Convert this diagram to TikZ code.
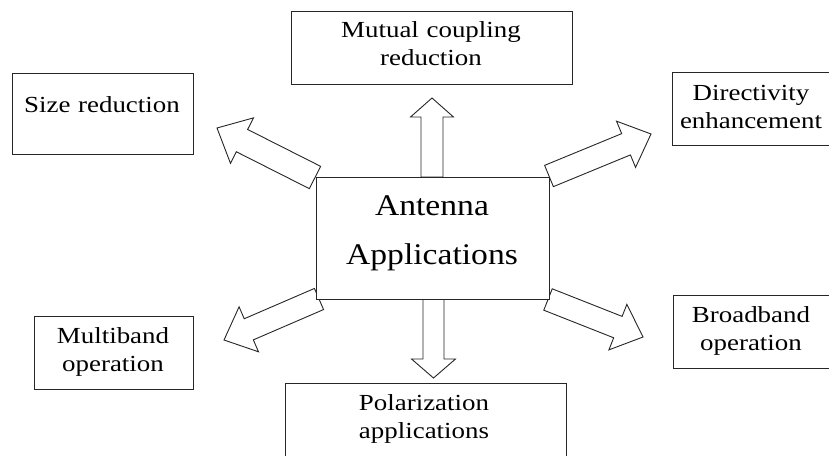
\documentclass[tikz,border=0pt]{standalone}
\usepackage{fontspec}
\setmainfont{Liberation Serif}[FakeStretch=1.17]
\newfontfamily\bigserif{Liberation Serif}[FakeStretch=1.12]
\usetikzlibrary{calc,backgrounds}
\tikzset{
  box/.style={draw=black!85, line width=0.9pt, fill=white, inner sep=0pt, outer sep=0pt},
  lbl/.style={anchor=base, text width=220pt, align=center, inner sep=0pt, font=\fontsize{23}{28}\selectfont},
  biglbl/.style={anchor=base, text width=220pt, align=center, inner sep=0pt, font=\bigserif\fontsize{30}{49}\selectfont},
  barrow/.style={draw=black!85, line width=0.9pt, fill=white, line join=miter},
}
% #1 tail, #2 tip, #3 shaft half width, #4 head half width, #5 head length (all in pt)
\newcommand\blockarrow[5]{%
  \coordinate (#1-#2-h) at ($(#2)!#5pt!(#1)$);
  \draw[barrow] ($(#1)!#3pt!90:(#2)$) -- ($(#1-#2-h)!#3pt!-90:(#1)$) -- ($(#1-#2-h)!#4pt!-90:(#1)$)
     -- (#2) -- ($(#1-#2-h)!#4pt!90:(#1)$) -- ($(#1-#2-h)!#3pt!90:(#1)$) -- ($(#1)!#3pt!-90:(#2)$) -- cycle;
}
\begin{document}
\begin{tikzpicture}[x=1pt,y=-1pt]
\useasboundingbox (0,0) rectangle (829,455);
% boxes
\node[box, minimum width=233, minimum height=122] (c) at (432.5,238) {};
\node[box, minimum width=281, minimum height=73] (mc) at (431.5,47.5) {};
\node[box, minimum width=181, minimum height=81] (sr) at (102.5,113.5) {};
\node[box, minimum width=160, minimum height=73] (de) at (752,108.5) {};
\node[box, minimum width=159, minimum height=73] (mb) at (113.5,352.5) {};
\node[box, minimum width=159, minimum height=73] (bb) at (752.5,331.5) {};
\node[box, minimum width=281, minimum height=87] (pa) at (425.5,426.5) {};
% texts
\node[biglbl] (ct) at (432,215) {Antenna\\Applications};
\node[lbl] (mct) at (431,37) {Mutual coupling\\reduction};
\node[lbl] (srt) at (102,112) {Size reduction};
\node[lbl] (det) at (751,100) {Directivity\\enhancement};
\node[lbl] (mbt) at (113,343) {Multiband\\operation};
\node[lbl] (bbt) at (751,322) {Broadband\\operation};
\node[lbl] (pat) at (424,410) {Polarization\\applications};
% arrow end points
\coordinate (tu) at (432,177);
\coordinate (pu) at (432,98);
\coordinate (td) at (433.5,299);
\coordinate (pd) at (433.5,378);
\coordinate (tul) at (315,177.5);
\coordinate (pul) at (217,128);
\coordinate (tur) at (549,176);
\coordinate (pur) at (651,134);
\coordinate (tll) at (319,299);
\coordinate (pll) at (224,340);
\coordinate (tlr) at (548,299.5);
\coordinate (plr) at (643,337);
\begin{pgfonlayer}{background}
\blockarrow{tu}{pu}{11}{21.5}{19}
\blockarrow{td}{pd}{10.5}{22}{19}
\blockarrow{tul}{pul}{12.5}{25.5}{28}
\blockarrow{tur}{pur}{11.5}{25}{27}
\blockarrow{tll}{pll}{11.5}{24.5}{27}
\blockarrow{tlr}{plr}{11.5}{24.5}{27}
\end{pgfonlayer}
\end{tikzpicture}
\end{document}
